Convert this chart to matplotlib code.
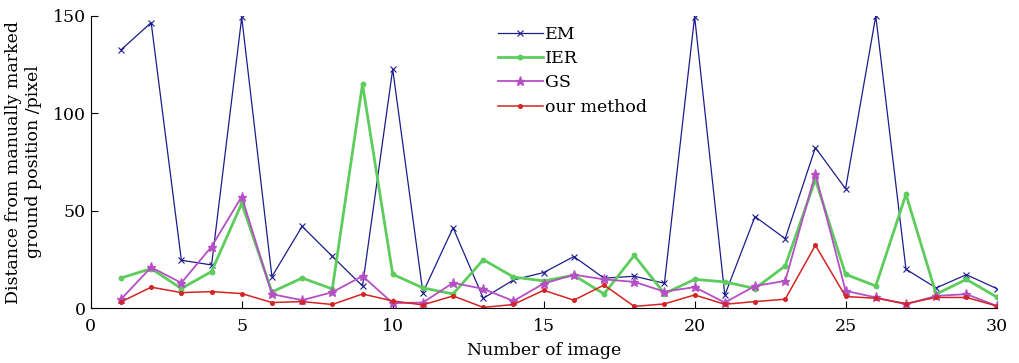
import numpy as np
import matplotlib.pyplot as plt

# distance au point de sol marqué à la main, pour chaque image
images = list(range(1, 31))
em = [132.6, 146.6, 24.6, 22.2, 149.3, 16.2, 42.0, 26.6, 11.4, 122.7,
      8.0, 41.3, 5.1, 14.5, 18.3, 26.5, 15.4, 16.4, 12.8, 149.7,
      6.7, 47.0, 35.7, 82.4, 61.3, 150.0, 20.0, 10.4, 17.2, 10.1]
ier = [15.5, 20.3, 10.1, 18.8, 53.8, 8.3, 15.5, 9.9, 115.0, 17.4,
       10.4, 7.3, 24.9, 16.0, 14.0, 16.9, 7.3, 27.1, 7.5, 14.8,
       13.5, 10.1, 21.7, 66.0, 17.4, 11.4, 58.4, 7.2, 14.8, 5.8]
gs = [4.6, 21.0, 13.0, 31.6, 57.3, 7.2, 4.1, 8.2, 16.5, 2.6,
      2.9, 13.0, 9.9, 3.7, 12.6, 17.2, 14.8, 13.5, 8.5, 10.8,
      2.9, 11.4, 14.0, 69.1, 8.9, 5.5, 2.0, 6.3, 7.2, 1.2]
ours = [3.2, 10.8, 8.0, 8.5, 7.5, 2.9, 3.4, 1.9, 7.3, 3.7,
        1.7, 6.3, 0.4, 1.9, 9.2, 4.1, 11.9, 0.9, 2.2, 6.8,
        2.0, 3.4, 4.6, 32.3, 6.0, 5.1, 2.4, 5.5, 5.5, 1.2]

plt.rcParams['font.family'] = ['DejaVu Serif']
plt.rcParams['font.size'] = 12

fig = plt.figure(figsize=(10.2, 3.63), dpi=100)
ax = fig.add_axes([0.089, 0.151, 0.888, 0.805])

ax.plot(images, em, color="#1c1c8c", lw=0.9, marker="x", ms=4, mew=0.8, label="EM")
ax.plot(images, ier, color="#5ccc5c", lw=2.0, marker="o", ms=3.2, label="IER")
ax.plot(images, gs, color="#b64fc4", lw=1.3, marker="*", ms=6.5, label="GS")
ax.plot(images, ours, color="#d42424", lw=1.1, marker="o", ms=2.6, label="our method")

ax.set_xlim(0, 30)
ax.set_ylim(0, 150)
ax.set_xticks(range(0, 31, 5))
ax.set_yticks([0, 50, 100, 150])
ax.spines["top"].set_visible(False)
ax.spines["right"].set_visible(False)
ax.tick_params(direction="in", length=5, labelsize=12.5)
ax.tick_params(axis="x", pad=7)
ax.set_xlabel("Number of image", fontsize=12.5, labelpad=5)
ax.set_ylabel("Distance from manually marked\nground position /pixel",
              fontsize=12.5, labelpad=8)

ax.legend(loc="upper left", bbox_to_anchor=(0.432, 1.02), frameon=False,
          fontsize=12.5, handlelength=2.6, handletextpad=0.1, labelspacing=0.42)

fig.savefig("out.png", dpi=100)
